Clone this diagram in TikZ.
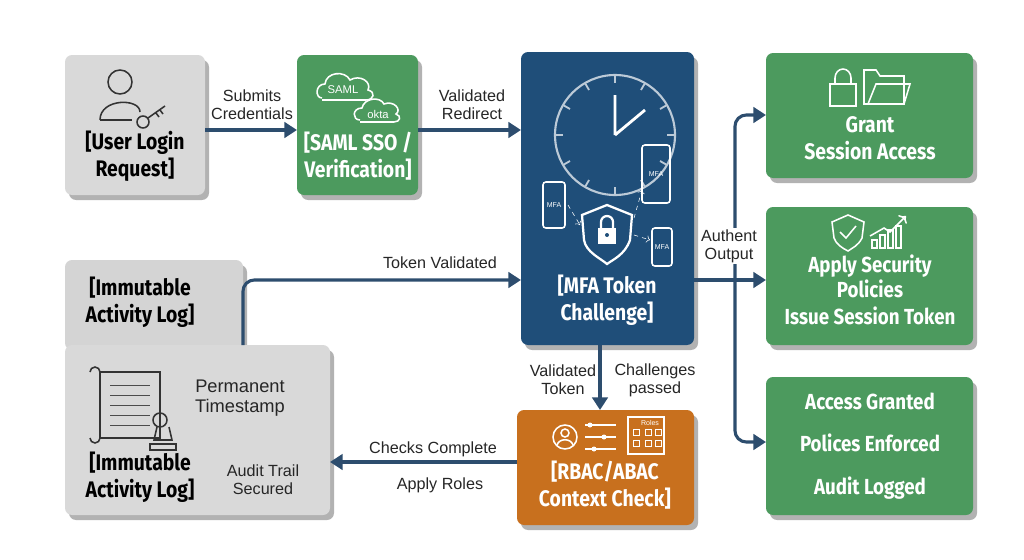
\documentclass[tikz,border=0pt]{standalone}
\usepackage{fontspec}
\setmainfont{Liberation Sans}
\newfontfamily\boxfont[FakeStretch=0.86]{Fira Sans}
\usetikzlibrary{arrows.meta}
\definecolor{cgray}{HTML}{D9D9D9}
\definecolor{cgreen}{HTML}{4C9A5E}
\definecolor{cblue}{HTML}{1F4E79}
\definecolor{corange}{HTML}{C8701E}
\definecolor{carrow}{HTML}{2D4D6E}
\tikzset{
 x=0.025cm,y=-0.025cm,
 btxt/.style={font=\boxfont\bfseries\fontsize{16}{19}\selectfont,align=center},
 ltxt/.style={font=\fontsize{11.5}{13}\selectfont,align=center,text=black!85},
 conn/.style={draw=carrow,line width=2.2pt,-{Triangle[length=9pt,width=11pt]}},
 icon/.style={line width=1.1pt},
}
\begin{document}
\begin{tikzpicture}
\fill[white] (0,0) rectangle (1024,559);
\useasboundingbox (0,0) rectangle (1024,559);
% shadows
\foreach \a/\b/\c/\d in {65/55/205/195, 297/55/418/195, 521/52/694/345, 766/53/973/178, 766/207/973/345, 766/377/973/515, 517/410/694/525, 65/345/330/515, 65/260/243/350}
  \fill[black!30,rounded corners=5pt] (\a+4,\b+5) rectangle (\c+4,\d+5);
% boxes
\fill[cgray,rounded corners=5pt] (65,55) rectangle (205,195);
\fill[cgreen,rounded corners=5pt] (297,55) rectangle (418,195);
\fill[cblue,rounded corners=5pt] (521,52) rectangle (694,345);
\fill[cgreen,rounded corners=5pt] (766,53) rectangle (973,178);
\fill[cgreen,rounded corners=5pt] (766,207) rectangle (973,345);
\fill[cgreen,rounded corners=5pt] (766,377) rectangle (973,515);
\fill[corange,rounded corners=5pt] (517,410) rectangle (694,525);
\fill[black!17,rounded corners=5pt] (65,260) rectangle (243,350);
\fill[cgray,rounded corners=5pt] (65,345) rectangle (330,515);
% texts
\node[btxt] (usert) at (135,156) {[User Login\\Request]};
\node[btxt,text=white] (samlt) at (358,156) {[SAML SSO /\\Verification]};
\node[btxt,text=white] (mfat) at (607,300) {[MFA Token\\Challenge]};
\node[btxt,text=white] (grant) at (870,138) {Grant\\Session Access};
\node[btxt,text=white,font=\boxfont\bfseries\fontsize{15.5}{17.5}\selectfont] (apply) at (870,290) {Apply Security\\Policies\\[2pt]Issue Session Token};
\node[btxt,text=white,font=\boxfont\bfseries\fontsize{15.5}{30}\selectfont] (acc) at (870,446) {Access Granted\\Polices Enforced\\Audit Logged};
\node[btxt,text=white] (rbac) at (605,485) {[RBAC/ABAC\\Context Check]};
\node[btxt] (log1) at (140,302) {[Immutable\\Activity Log]};
\node[btxt] (log2) at (140,477) {[Immutable\\Activity Log]};
\node[ltxt,font=\fontsize{13}{14}\selectfont] (perm) at (240,398) {Permanent\\Timestamp};
\node[ltxt] (audit) at (263,480) {Audit Trail\\Secured};
% icons: user + key
\draw[icon,black!80] (120,82) circle (12);
\draw[icon,black!80] (100,120) .. controls (100,98) and (140,98) .. (140,112);
\draw[icon,black!80] (100,120) -- (132,120);
\draw[icon,black!80] (143,122) circle (6);
\draw[icon,black!80] (148,118) -- (165,106) (160,110) -- (163,114) (156,113) -- (159,117);
% clouds
\draw[white,icon] (322,98) .. controls (315,98) and (315,84) .. (325,84) .. controls (326,72) and (345,70) .. (350,80) .. controls (360,74) and (372,82) .. (368,90) .. controls (376,92) and (374,100) .. (366,100) -- (322,100);
\node[text=white,font=\fontsize{8}{9}\selectfont] (saml) at (343,90) {SAML};
\draw[white,icon] (360,120) .. controls (352,120) and (352,108) .. (362,108) .. controls (364,98) and (380,96) .. (384,104) .. controls (394,100) and (402,110) .. (396,114) .. controls (402,116) and (400,122) .. (394,122) -- (360,122);
\node[text=white,font=\fontsize{8}{9}\selectfont] (okta) at (378,114) {okta};
% clock
\draw[white!70!cblue,line width=1.5pt] (615,135) circle (60);
\foreach \t in {0,30,...,330} \draw[white!70!cblue,line width=1.3pt] (615,135) ++(\t:52) -- ++(\t:7);
\draw[white,line width=2pt] (615,135) -- (615,95) (615,135) -- (645,110);
% phones
\foreach \px/\py/\w/\h in {543/182/22/46, 642/145/28/58, 652/228/20/38}{
 \draw[white,icon,rounded corners=2pt] (\px,\py) rectangle ++(\w,\h);}
\node[white,font=\fontsize{5}{6}\selectfont] (m1) at (554,205) {MFA};
\node[white,font=\fontsize{5}{6}\selectfont] (m2) at (656,174) {MFA};
\node[white,font=\fontsize{5}{6}\selectfont] (m3) at (662,247) {MFA};
% shield
\draw[white,line width=1.6pt] (582,215) -- (607,205) -- (632,215) -- (630,240) .. controls (625,255) and (612,260) .. (607,264) .. controls (600,258) and (586,252) .. (584,240) -- cycle;
\fill[white] (598,228) rectangle (616,244);
\draw[white,line width=1.6pt] (601,228) -- (601,222) arc (180:360:6) -- (613,228);
\fill[cblue] (607,235) circle (2);
\draw[white,dashed,->] (568,205) -- (580,225);
\draw[white,dashed,->] (634,218) -- (642,190);
\draw[white,dashed,->] (634,235) -- (650,240);
% lock + folder
\draw[white,icon] (830,84) rectangle (856,106);
\draw[white,icon] (835,84) -- (835,78) arc (180:360:8 and 9) -- (851,84);
\draw[white,icon] (864,104) -- (864,70) -- (876,70) -- (880,76) -- (904,76) -- (904,104) -- cycle;
\draw[white,icon] (868,104) -- (876,84) -- (910,84) -- (904,104);
% shield check + chart
\draw[white,icon] (832,222) -- (848,215) -- (864,222) -- (862,238) .. controls (858,246) and (852,248) .. (848,251) .. controls (842,248) and (836,244) .. (834,238) -- cycle;
\draw[white,icon] (840,232) -- (846,238) -- (856,226);
\foreach \i/\hh in {0/8,1/13,2/18,3/22} \draw[white,icon] (872+\i*8,248) rectangle ++(5,-\hh);
\draw[white,icon,->] (870,236) -- (884,228) -- (890,232) -- (906,216);
% rbac icons
\draw[white,icon] (565,437) circle (12);
\draw[white,icon] (565,433) circle (4);
\draw[white,icon] (557,445) .. controls (559,438) and (571,438) .. (573,445);
\foreach \yy/\xx in {425/590,437/604,449/594}{\draw[white,icon] (585,\yy) -- (616,\yy); \fill[white] (\xx,\yy) circle (2.5);}
\draw[white,icon] (628,417) rectangle (664,454);
\node[white,font=\fontsize{5}{6}\selectfont] (roles) at (650,423) {Roles};
\foreach \yy in {432,443} \foreach \xx in {636,648,658} \draw[white,line width=0.7pt] (\xx-3,\yy-3) rectangle (\xx+3,\yy+3);
% scroll + stamp
\draw[black!80,icon] (100,372) rectangle (160,438);
\draw[black!80,icon] (100,372) arc (0:-180:5 and 5) (100,438) arc (0:180:5 and 5);
\foreach \yy in {385,395,405,415,425} \draw[black!70] (110,\yy) -- (150,\yy);
\draw[black!80,icon] (160,420) circle (7);
\draw[black!80,icon] (157,427) -- (154,440) -- (172,440) -- (169,427);
\draw[black!80,icon] (150,444) rectangle (176,450);
% connectors
\coordinate (a1) at (205,130); \coordinate (a2) at (297,130);
\draw[conn] (a1) -- (a2);
\node[ltxt] (l1) at (252,105) {Submits\\Credentials};
\coordinate (b1) at (418,130); \coordinate (b2) at (521,130);
\draw[conn] (b1) -- (b2);
\node[ltxt] (l2) at (472,105) {Validated\\Redirect};
\coordinate (c0) at (694,280); \coordinate (c1) at (735,280);
\coordinate (g) at (766,115); \coordinate (ap) at (766,280); \coordinate (ac) at (766,442);
\draw[conn,-] (c0) -- (c1);
\draw[conn,rounded corners=8pt] (c1) |- (g);
\draw[conn] (c1) -- (ap);
\draw[conn,rounded corners=8pt] (c1) |- (ac);
\node[ltxt,fill=white,inner sep=1pt] (l3) at (729,246) {Authent\\Output};
\coordinate (d0) at (243,345); \coordinate (d1) at (521,280);
\draw[conn,rounded corners=8pt] (d0) |- (d1);
\node[ltxt] (l4) at (440,263) {Token Validated};
\coordinate (e0) at (600,345); \coordinate (e1) at (600,410);
\draw[conn] (e0) -- (e1);
\node[ltxt] (l5) at (563,380) {Validated\\Token};
\node[ltxt] (l6) at (655,380) {Challenges\\passed};
\coordinate (f0) at (517,462); \coordinate (f1) at (330,462);
\draw[conn] (f0) -- (f1);
\node[ltxt] (l7) at (433,449) {Checks Complete};
\node[ltxt] (l8) at (440,485) {Apply Roles};
\end{tikzpicture}
\end{document}
